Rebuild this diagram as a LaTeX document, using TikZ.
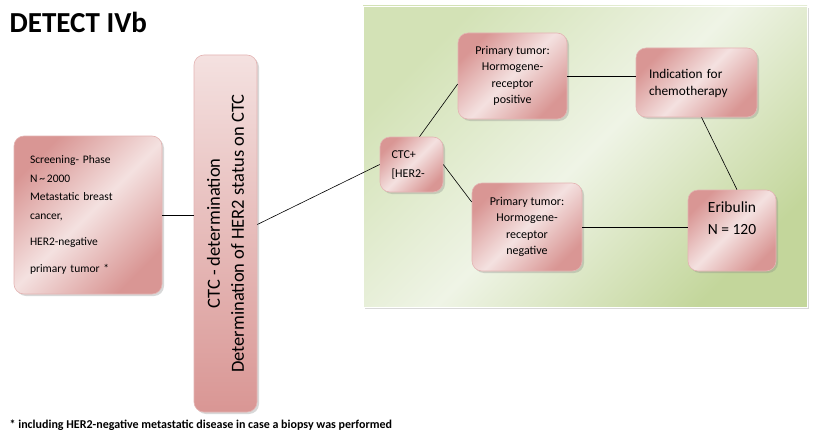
\documentclass[tikz,border=0pt]{standalone}
\usepackage{fontspec}
\setmainfont{Carlito}
\usetikzlibrary{shadows}
\definecolor{rosedark}{HTML}{D99694}
\definecolor{roselight}{HTML}{F4E1E0}
\definecolor{roseedge}{HTML}{E4B4B3}
\definecolor{olivedark}{HTML}{C3D69B}
\definecolor{olivemid}{HTML}{D3E2B6}
\definecolor{olivelight}{HTML}{EFF4E6}

\begin{document}
\begin{tikzpicture}[x=1pt,y=-1pt,line width=0.6pt,
  pink node/.style={rectangle,rounded corners=10pt,draw=roseedge,
    left color=rosedark,right color=rosedark,middle color=roselight,shading angle=45,
    drop shadow={shadow xshift=2pt,shadow yshift=-2pt,opacity=0.3},
    inner sep=0pt,font=\fontsize{12}{16.5}\selectfont},
  panel node/.style={rectangle,draw=white,
    left color=olivemid,right color=olivedark,middle color=olivelight,shading angle=45,
    drop shadow={shadow xshift=2pt,shadow yshift=-2pt,opacity=0.3},inner sep=0pt}]
  \useasboundingbox[fill=white] (0,0) rectangle (830,444);

  \node[anchor=west,font=\fontsize{29}{34}\selectfont\bfseries] (title) at (6,22) {DETECT IVb};

  \node[pink node,minimum width=148pt,minimum height=158pt,text width=116pt,align=left,
    font=\fontsize{11.5}{18.5}\selectfont] (screen) at (88,215)
    {Screening- Phase\\N\,\textasciitilde\,2000\\Metastatic breast\\cancer,\\[8pt]HER2-negative\\[8pt]primary tumor *};
  \node[pink node,rotate=90,minimum width=357pt,minimum height=63pt,
    top color=roselight,bottom color=rosedark,align=center,
    font=\fontsize{18.5}{24}\selectfont] (bar) at (225.5,233.5)
    {CTC - determination\\Determination of HER2 status on CTC};

  \node[panel node,minimum width=444pt,minimum height=301pt] (panel) at (585,156.5) {};

  \node[pink node,minimum width=63pt,minimum height=55pt,text width=40pt,align=left,
    font=\fontsize{12}{19}\selectfont] (ctc) at (411.5,164.5) {CTC+\\{}[HER2-};
  \node[pink node,minimum width=109pt,minimum height=86pt,align=center] (pos) at (512.5,76)
    {Primary tumor:\\Hormogene-\\receptor\\positive};
  \node[pink node,minimum width=110pt,minimum height=88pt,align=center] (neg) at (527,227)
    {Primary tumor:\\Hormogene-\\receptor\\negative};
  \node[pink node,minimum width=121pt,minimum height=69pt,text width=95pt,align=left,
    text depth=18pt,font=\fontsize{13.3}{17}\selectfont] (ind) at (696.5,82.5)
    {Indication for\\chemotherapy};
  \node[pink node,minimum width=88pt,minimum height=81pt,align=center,
    text depth=24pt,font=\fontsize{15.5}{22}\selectfont] (eri) at (732,230.5)
    {Eribulin\\N = 120};

  \node[anchor=west,font=\fontsize{12}{14}\selectfont\bfseries] (note) at (6,425)
    {* including HER2-negative metastatic disease in case a biopsy was performed};

  \draw (screen.east) -- (screen.east -| bar.north);
  \draw ([yshift=9pt]bar.south) -- (ctc.west);
  \draw ([xshift=8pt]ctc.north) -- ([yshift=-8pt]pos.west);
  \draw (ctc.east) -- ([yshift=25pt]neg.west);
  \draw (pos.east) -- (pos.east -| ind.west);
  \draw ([xshift=5pt]ind.south) -- ([xshift=5pt]eri.north);
  \draw (neg.east) -- (neg.east -| eri.west);
\end{tikzpicture}
\end{document}
